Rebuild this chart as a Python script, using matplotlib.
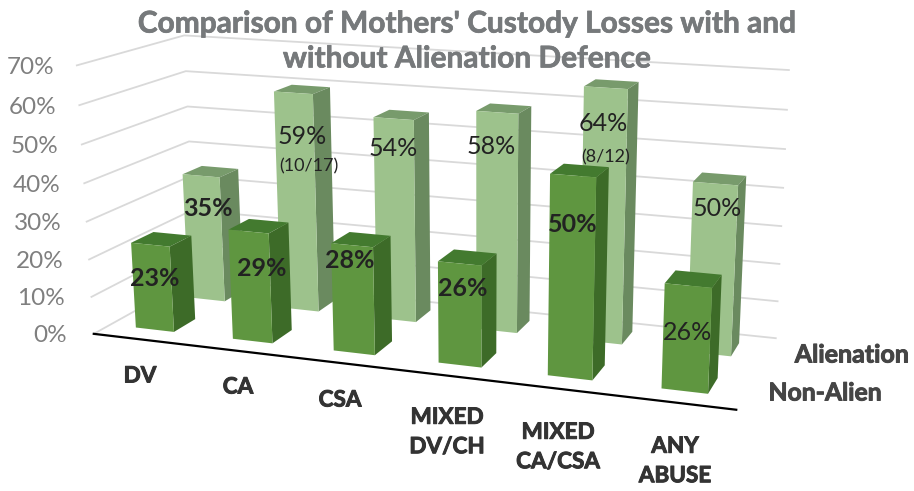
import numpy as np
import matplotlib
matplotlib.use('Agg')
import matplotlib.pyplot as plt
import matplotlib.patheffects as pe

plt.rcParams['font.family'] = ['Lato', 'DejaVu Sans']

categories = ['DV', 'CA', 'CSA', 'MIXED\nDV/CH', 'MIXED\nCA/CSA', 'ANY\nABUSE']
non_alien = [23, 29, 28, 26, 50, 26]
# heights as drawn, the last two bars do not quite agree with their labels
alienation = [35, 59.5, 54.5, 58, 66, 44]
non_alien_labels = ['23%', '29%', '28%', '26%', '50%', '26%']
alienation_labels = ['35%', '59%', '54%', '58%', '64%', '50%']
ticks = [0, 10, 20, 30, 40, 50, 60, 70]

# where the labels sit on the page
non_alien_xy = [(155, 279), (262, 269), (350, 260), (463, 288), (573, 224), (688, 332)]
non_alien_bold = [True, True, True, True, True, False]
alienation_xy = [(208, 208), (302, 137), (393, 148), (491, 147), (603, 123), (717, 209)]
alienation_bold = [True, False, False, False, False, False]
cat_xy = [(140, 376), (238, 387), (340, 400), (447, 432), (558, 447), (675, 461)]

# box corners on the page: (category pos, depth, value) -> pixel
calib = [((0, 0, 0), (92, 332)), ((0, 0, 70), (78, 67)),
         ((0, 1, 0), (197, 279)), ((0, 1, 70), (183, 34)),
         ((6, 1, 0), (775, 338)), ((6, 1, 70), (789, 70)),
         ((6, 0, 0), (737, 410))]

A = []
for (a, b, c), (px, py) in calib:
    A.append([a, b, c, 1, 0, 0, 0, 0, -px*a, -px*b, -px*c, -px])
    A.append([0, 0, 0, 0, a, b, c, 1, -py*a, -py*b, -py*c, -py])
P = np.linalg.svd(np.array(A, float))[2][-1].reshape(3, 4)

def proj(u, w, v):
    p = P @ np.array([u, w, v, 1.0])
    return p[0]/p[2], p[1]/p[2]

def bar(ax, i, val, w0, w1, face, side, top):
    u0 = i + 0.27 + 0.007*i
    u1 = u0 + 0.40
    ax.fill(*zip(proj(u0, w0, val), proj(u1, w0, val), proj(u1, w1, val), proj(u0, w1, val)), color=top, lw=0, zorder=3)
    ax.fill(*zip(proj(u1, w0, 0), proj(u1, w1, 0), proj(u1, w1, val), proj(u1, w0, val)), color=side, lw=0, zorder=3)
    ax.fill(*zip(proj(u0, w0, 0), proj(u1, w0, 0), proj(u1, w0, val), proj(u0, w0, val)), color=face, lw=0, zorder=3)

def bold_text(x, y, s, size, color, stroke=0.7, **kw):
    t = ax.text(x, y, s, ha='center', va='center', fontsize=size, color=color, fontweight='bold', zorder=6, **kw)
    t.set_path_effects([pe.withStroke(linewidth=stroke, foreground=color)])

fig = plt.figure(figsize=(9.14, 4.91), dpi=100)
ax = fig.add_axes([0, 0, 1, 1])
ax.set_xlim(0, 914)
ax.set_ylim(491, 0)
ax.axis('off')

for t in ticks:
    a, b, c = proj(0, 0, t), proj(0, 1, t), proj(6, 1, t)
    ax.plot(*zip(a, b, c), color='#d9d9d9', lw=1.3, zorder=1)
    ax.text(a[0] - 22 - (70 - t)*0.07, a[1] + 2, '%d%%' % t, ha='right', va='center', fontsize=17.5, color='#7f7f7f')
ax.plot(*zip(proj(0, 0, 0), proj(6, 0, 0)), color='black', lw=1.6, zorder=2)

for i, val in enumerate(alienation):
    bar(ax, i, val, 0.67, 0.87, '#9dc28c', '#6a8a5f', '#789b6c')
for i, val in enumerate(non_alien):
    bar(ax, i, val, 0.15, 0.36, '#5f9640', '#3d6b28', '#437a2f')

for s, (x, y), b in zip(non_alien_labels + alienation_labels, non_alien_xy + alienation_xy, non_alien_bold + alienation_bold):
    ax.text(x, y, s, ha='center', va='center', fontsize=18, color='#222222', fontweight='bold' if b else 'normal', zorder=5)
ax.text(309, 166, '(10/17)', ha='center', va='center', fontsize=13, color='#222222', zorder=5)
ax.text(606, 157, '(8/12)', ha='center', va='center', fontsize=13, color='#222222', zorder=5)

for s, (x, y) in zip(categories, cat_xy):
    bold_text(x, y, s, 16.2, '#333333', linespacing=1.5)
bold_text(852, 355, 'Alienation', 18, '#454545')
bold_text(825, 393, 'Non-Alien', 17.8, '#454545')

bold_text(467, 41, "Comparison of Mothers' Custody Losses with and\nwithout Alienation Defence", 21.5, '#76797b',
          stroke=0.5, linespacing=1.3)

fig.savefig('out.png', dpi=100)
